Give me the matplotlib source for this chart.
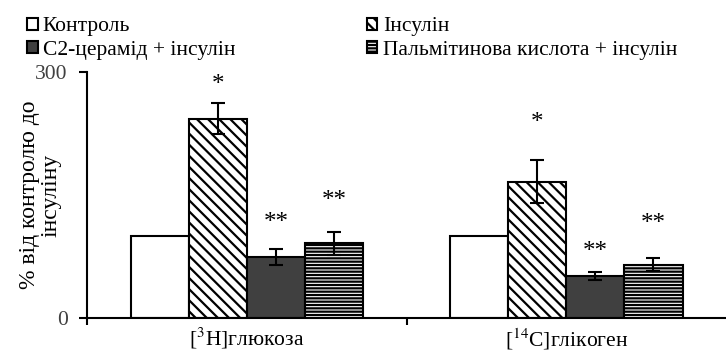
import matplotlib
matplotlib.use('Agg')
import matplotlib.pyplot as plt
import numpy as np

plt.rcParams['font.family'] = ['Liberation Serif', 'DejaVu Serif']
plt.rcParams['mathtext.fontset'] = 'stix'
plt.rcParams['hatch.linewidth'] = 1.6

categories = ['[$^3$H]глюкоза', '[$^{14}$C]глікоген']
series = ['Контроль', 'Інсулін', 'С2-церамід + інсулін', 'Пальмітинова кислота + інсулін']
values = [
	[100, 100],
	[243, 166],
	[74, 51],
	[91, 65],
]
errors = [
	[0, 0],
	[19, 26],
	[10, 5],
	[14, 8],
]
marks = [
	['', ''],
	['*', '*'],
	['**', '**'],
	['**', '**'],
]
mark_y = [
	[0, 0],
	[284, 238],
	[116, 80],
	[143, 114],
]

colors = ['white', 'white', '#404040', 'white']
hatches = [None, '\\\\\\', None, '-----']

fig = plt.figure(figsize=(7.26, 3.54), dpi=100)
ax = fig.add_axes([0.12, 0.102, 0.88, 0.695])

bar_w = 0.182
x = np.arange(len(categories)) + 0.5

bars = []
for i in range(len(series)):
	pos = x + (i - 1.5) * bar_w
	b = ax.bar(pos, values[i], bar_w, color=colors[i], edgecolor='black',
		linewidth=1.5, hatch=hatches[i], label=series[i], zorder=2)
	bars.append(b)
	if i > 0:
		ax.errorbar(pos, values[i], yerr=errors[i], fmt='none', ecolor='black',
			elinewidth=1.5, capsize=5, capthick=1.5, zorder=3)
	for j in range(len(categories)):
		if marks[i][j]:
			ax.text(pos[j], mark_y[i][j], marks[i][j], ha='center', va='center',
				fontsize=18)

ax.set_xlim(0, 2)
ax.set_ylim(0, 300)
ax.set_yticks([0, 300])
ax.set_xticks([0, 1])
ax.set_xticklabels([])
ax.set_xticks(x, minor=True)
ax.set_xticklabels(categories, minor=True, fontsize=15.5)
ax.tick_params(axis='x', which='minor', length=0, pad=6)
ax.tick_params(axis='x', which='major', length=5, width=1.5, direction='out')
ax.tick_params(axis='y', length=6, width=1.5, labelsize=15.5, labelcolor='#404040', pad=8)
for s in ['top', 'right']:
	ax.spines[s].set_visible(False)
for s in ['left', 'bottom']:
	ax.spines[s].set_linewidth(1.5)

ax.set_ylabel('% від контролю до\nінсуліну', fontsize=17, linespacing=1.05)
ax.yaxis.set_label_coords(-0.04, 0.5)

# row-major order like the original legend
order = [0, 2, 1, 3]
leg = fig.legend([bars[k] for k in order], [series[k] for k in order],
	loc='upper left', bbox_to_anchor=(0.025, 0.975), ncol=2,
	frameon=False, fontsize=15.5, handlelength=0.5, handleheight=0.5,
	handletextpad=0.25, columnspacing=6.1, labelspacing=0.2, borderaxespad=0)

fig.savefig('out.png', dpi=100)
